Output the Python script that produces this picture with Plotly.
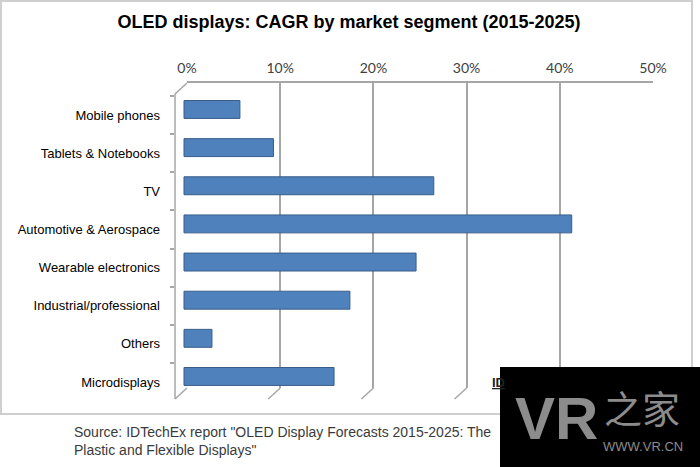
import plotly.graph_objects as go

categories = ["Mobile phones", "Tablets & Notebooks", "TV", "Automotive & Aerospace",
              "Wearable electronics", "Industrial/professional", "Others", "Microdisplays"]
cagr = [6.0, 9.6, 26.8, 41.6, 24.9, 17.8, 3.0, 16.1]
tick_vals = [0, 10, 20, 30, 40, 50]
tick_text = ["0%", "10%", "20%", "30%", "40%", "50%"]

W, H = 700, 467
def px(x):
    return x / W
def py(y):
    return 1 - y / H

# geometry (pixels)
X0, X50 = 187, 653          # back wall 0% .. 50%
YT, YB = 83, 388            # back wall top / bottom
FX = 175                    # front edge x
DX, DY = -12, 11            # depth offset
XF0 = 184                   # bar start
scale = (X50 - X0) / 50.0
GRID = "#a6a6a6"

fig = go.Figure()
# empty trace to create the gridline subplot
fig.add_trace(go.Scatter(x=[None], y=[None], xaxis="x", yaxis="y", showlegend=False,
                         hoverinfo="skip"))
bw = 0.47
fig.add_trace(go.Bar(
    y=categories, x=cagr, orientation="h", xaxis="x2", yaxis="y",
    width=bw, offset=-bw / 2 - 0.145,
    marker=dict(color="#4F81BD", line=dict(color="#385D8A", width=1)),
    showlegend=False,
))

r0 = -(XF0 - FX) / scale
fig.update_layout(
    width=W, height=H,
    margin=dict(l=0, r=0, t=0, b=0, autoexpand=False),
    paper_bgcolor="white", plot_bgcolor="rgba(0,0,0,0)",
    font=dict(family="Liberation Sans, Arial, sans-serif", color="#000"),
    title=dict(text="<b>OLED displays: CAGR by market segment (2015-2025)</b>",
               x=349 / W, xanchor="center", y=py(22), yanchor="middle", automargin=False,
               font=dict(size=18, color="#000", family="Liberation Sans, Arial, sans-serif")),
    xaxis=dict(domain=[px(X0), px(X50)], range=[0, 50], side="top", anchor="y",
               tickvals=tick_vals, ticktext=tick_text, showgrid=True, gridcolor=GRID,
               gridwidth=1.5, zeroline=False, showline=True, linecolor=GRID, linewidth=1.5,
               ticks="", ticklabelstandoff=3, automargin=False,
               tickfont=dict(size=14, color="#404040", family="Lato, Open Sans, sans-serif")),
    xaxis2=dict(domain=[px(FX), px(X50)], range=[r0, r0 + (X50 - FX) / scale],
                anchor="y", visible=False, automargin=False),
    yaxis=dict(domain=[py(YB), py(YT)], type="category", categoryorder="array",
               categoryarray=categories, range=[7 + (YB - 382) / 38.14, -(115 - YT) / 38.14],
               anchor="x2", showgrid=False, zeroline=False, showline=False, automargin=False,
               ticks="outside", tickson="boundaries", ticklen=4, tickcolor=GRID, tickwidth=1.5,
               ticklabelstandoff=14,
               tickfont=dict(size=13, color="#000", family="Liberation Sans, Arial, sans-serif")),
)

shapes = []
# outer chart border
shapes.append(dict(type="rect", xref="paper", yref="paper", x0=px(1), x1=px(692), y0=py(414), y1=py(1),
                   line=dict(color="#cfcfcf", width=2)))
# front vertical edge
shapes.append(dict(type="line", xref="paper", yref="paper", x0=px(FX), x1=px(FX),
                   y0=py(YT + DY), y1=py(YB + DY), line=dict(color=GRID, width=1.5)))
# top-left slant
shapes.append(dict(type="line", xref="paper", yref="paper", x0=px(FX), x1=px(X0),
                   y0=py(YT + DY), y1=py(YT), line=dict(color=GRID, width=1.5)))
# floor slants at each gridline
for t in tick_vals:
    gx = X0 + t * scale
    shapes.append(dict(type="line", xref="paper", yref="paper", x0=px(gx), x1=px(gx + DX),
                       y0=py(YB), y1=py(YB + DY), line=dict(color=GRID, width=1.5)))
# watermark box
shapes.append(dict(type="rect", xref="paper", yref="paper", x0=px(500), x1=px(700),
                   y0=py(467), y1=py(367), fillcolor="black", line=dict(width=0), layer="above"))
fig.update_layout(shapes=shapes)

ann = []
ann.append(dict(xref="paper", yref="paper", x=px(72), y=py(441), xanchor="left", yanchor="middle",
                text='Source: IDTechEx report "OLED Display Forecasts 2015-2025: The<br>Plastic and Flexible Displays"',
                showarrow=False, align="left",
                font=dict(size=14, color="#3a3a3a", family="Liberation Sans, Arial, sans-serif")))
ann.append(dict(xref="paper", yref="paper", x=px(490), y=py(382), xanchor="left", yanchor="middle",
                text="<b><u>ID</u></b>", showarrow=False,
                font=dict(size=13, color="#222", family="Liberation Sans, Arial, sans-serif")))
ann.append(dict(xref="paper", yref="paper", x=px(556), y=py(418), xanchor="center", yanchor="middle",
                text="<b>VR</b>", showarrow=False,
                font=dict(size=60, color="#8c8c8c", family="Liberation Sans, Arial, sans-serif")))
ann.append(dict(xref="paper", yref="paper", x=px(642), y=py(406), xanchor="center", yanchor="middle",
                text="之家", showarrow=False,
                font=dict(size=38, color="#8c8c8c", family="Noto Sans CJK SC")))
ann.append(dict(xref="paper", yref="paper", x=px(643), y=py(446), xanchor="center", yanchor="middle",
                text="WWW.VR.CN", showarrow=False,
                font=dict(size=13, color="#8c8c8c", family="Liberation Sans, Arial, sans-serif")))
fig.update_layout(annotations=ann)

fig.write_html("out.html", config={"displayModeBar": False},
               post_script="document.body.style.margin='0';document.body.style.overflow='hidden';")
